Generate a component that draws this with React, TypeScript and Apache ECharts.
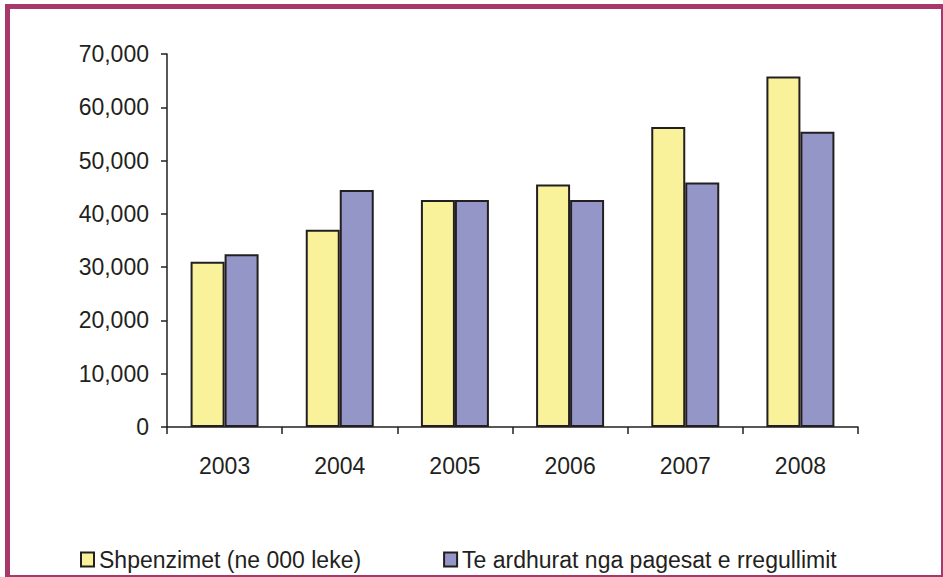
import React, { useEffect, useRef } from "react";
import * as echarts from "echarts";

const years = ["2003", "2004", "2005", "2006", "2007", "2008"];
const expenses = [31000, 37000, 42600, 45500, 56300, 65800];
const revenues = [32400, 44500, 42600, 42600, 45900, 55400];
const seriesNames = ["Shpenzimet (ne 000 leke)", "Te ardhurat nga pagesat e rregullimit"];

const FONT = "'Liberation Sans', Arial, Helvetica, sans-serif";
const INK = "#231f20";

export default function App() {
  const ref = useRef<HTMLDivElement>(null);
  useEffect(() => {
    if (!ref.current) return;
    const chart = echarts.init(ref.current, null, { renderer: "svg" });
    chart.setOption({
      animation: false,
      textStyle: { fontFamily: FONT, color: INK },
      grid: { left: 167, top: 54, right: 85, bottom: 150 },
      legend: {
        left: 75,
        top: 543,
        itemWidth: 13,
        itemHeight: 14,
        itemGap: 82,
        icon: "rect",
        textStyle: { fontFamily: FONT, fontSize: 23, color: INK },
        data: seriesNames,
      },
      xAxis: {
        type: "category",
        data: years,
        axisLine: { lineStyle: { color: INK, width: 1.5 } },
        axisTick: { show: true, length: 7, lineStyle: { color: INK, width: 1.5 } },
        axisLabel: { margin: 27, fontSize: 23, color: INK, fontFamily: FONT },
      },
      yAxis: {
        type: "value",
        min: 0,
        max: 70000,
        interval: 10000,
        splitLine: { show: false },
        axisLine: { show: true, lineStyle: { color: INK, width: 1.5 } },
        axisTick: { show: true, length: 6, lineStyle: { color: INK, width: 1.5 } },
        axisLabel: {
          margin: 18,
          fontSize: 23,
          color: INK,
          fontFamily: FONT,
          formatter: (v: number) => v.toLocaleString("en-US"),
        },
      },
      series: [
        {
          name: seriesNames[0],
          type: "bar",
          data: expenses,
          barWidth: 34,
          barGap: "0%",
          itemStyle: { color: "#f9f29a", borderColor: INK, borderWidth: 2 },
        },
        {
          name: seriesNames[1],
          type: "bar",
          data: revenues,
          barWidth: 34,
          barGap: "0%",
          itemStyle: { color: "#9596c8", borderColor: INK, borderWidth: 2 },
        },
      ],
    });
    return () => chart.dispose();
  }, []);

  return (
    <div style={{ position: "fixed", left: 0, top: 0, width: 943, height: 577, background: "#ffffff" }}>
      <div
        style={{
          position: "absolute",
          left: 5,
          top: 4,
          width: 938,
          height: 573,
          boxSizing: "border-box",
          borderLeft: "5px solid #a8386c",
          borderTop: "5px solid #a8386c",
          borderRight: "2px solid #a8386c",
          borderBottom: "2px solid #a8386c",
        }}
      />
      <div ref={ref} style={{ position: "absolute", left: 0, top: 0, width: 943, height: 577 }} />
    </div>
  );
}
